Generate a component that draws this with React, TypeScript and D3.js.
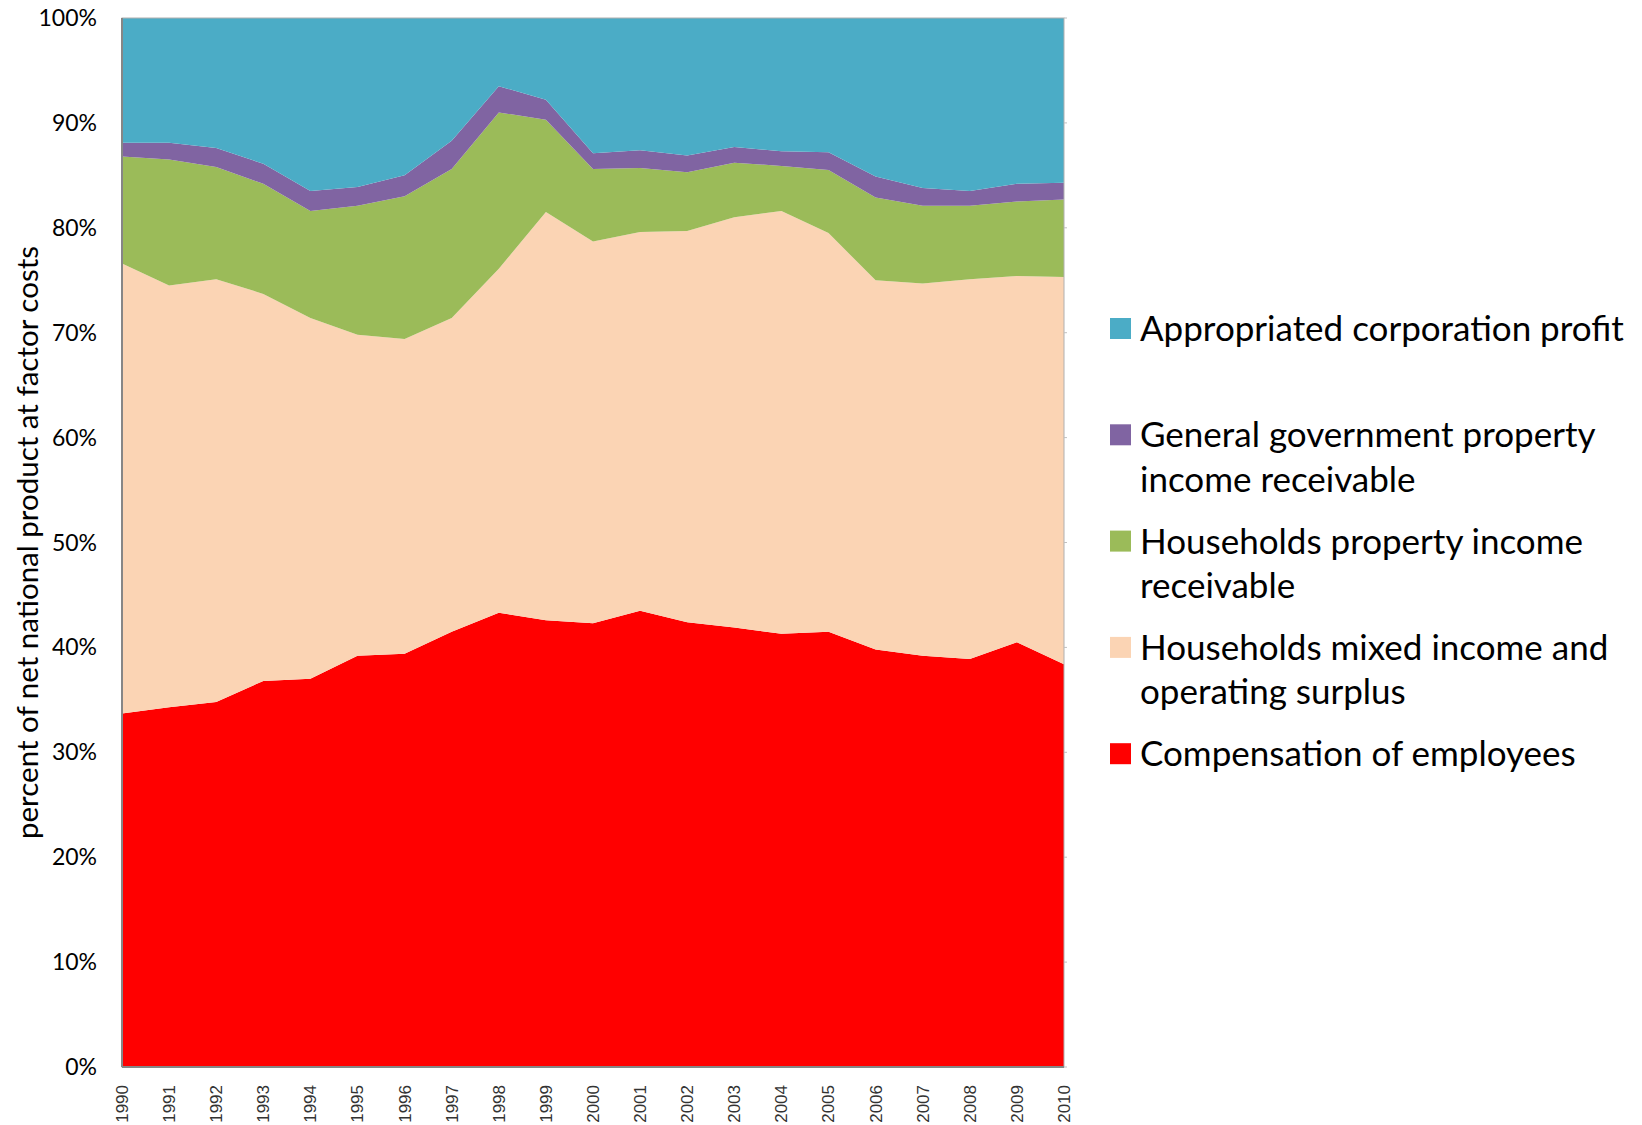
import React from 'react'
import * as d3 from 'd3'

const years = [1990, 1991, 1992, 1993, 1994, 1995, 1996, 1997, 1998, 1999, 2000, 2001, 2002, 2003, 2004, 2005, 2006, 2007, 2008, 2009, 2010]

// shares in percent
const compensation = [33.7, 34.3, 34.8, 36.8, 37.0, 39.2, 39.4, 41.5, 43.3, 42.6, 42.3, 43.5, 42.4, 41.9, 41.3, 41.5, 39.8, 39.2, 38.9, 40.5, 38.4]
const mixedIncome = [42.9, 40.2, 40.3, 36.9, 34.4, 30.6, 30.0, 29.9, 32.8, 38.9, 36.4, 36.1, 37.3, 39.1, 40.3, 38.0, 35.2, 35.5, 36.2, 34.9, 36.9]
const householdsProperty = [10.2, 12.0, 10.7, 10.5, 10.2, 12.3, 13.6, 14.2, 14.9, 8.8, 6.9, 6.1, 5.6, 5.2, 4.3, 6.0, 7.9, 7.4, 7.0, 7.1, 7.4]
const governmentProperty = [1.3, 1.6, 1.8, 1.9, 1.9, 1.8, 2.0, 2.7, 2.5, 1.9, 1.5, 1.7, 1.6, 1.5, 1.4, 1.7, 2.0, 1.7, 1.4, 1.7, 1.6]
const corporationProfit = [11.9, 11.9, 12.4, 13.9, 16.5, 16.1, 15.0, 11.7, 6.5, 7.8, 12.9, 12.6, 13.1, 12.3, 12.7, 12.8, 15.1, 16.2, 16.5, 15.8, 15.7]

const yTicks = [0, 0.1, 0.2, 0.3, 0.4, 0.5, 0.6, 0.7, 0.8, 0.9, 1]

const seriesKeys = ['comp', 'mixed', 'hhprop', 'govprop', 'corp']
const seriesColors = ['#FF0000', '#FBD4B4', '#9BBB59', '#8064A2', '#4BACC6']
const legendLabels = [
  ['Compensation of employees'],
  ['Households mixed income and', 'operating surplus'],
  ['Households property income', 'receivable'],
  ['General government property', 'income receivable'],
  ['Appropriated corporation profit'],
]

const W = 1642
const H = 1125
const margin = { top: 18, right: 578, bottom: 58, left: 122 }

export default function App() {
  const innerRight = W - margin.right
  const innerBottom = H - margin.bottom

  const rows = years.map((y, i) => ({
    year: y,
    comp: compensation[i],
    mixed: mixedIncome[i],
    hhprop: householdsProperty[i],
    govprop: governmentProperty[i],
    corp: corporationProfit[i],
  }))

  const stack = d3.stack<any>().keys(seriesKeys).offset(d3.stackOffsetExpand)
  const layers = stack(rows)

  const x = d3.scalePoint<number>().domain(years).range([margin.left, innerRight])
  const y = d3.scaleLinear().domain([0, 1]).range([innerBottom, margin.top])

  const area = d3.area<any>()
    .x(d => x(d.data.year) as number)
    .y0(d => y(d[0]))
    .y1(d => y(d[1]))

  const fmt = d3.format('.0%')
  const legendX = 1110
  const legendTop = 318
  const rowStep = 106.3

  return (
    <svg width={W} height={H} style={{ position: 'absolute', left: 0, top: 0, background: '#fff' }}>
      {layers.map((layer, i) => (
        <path key={layer.key} d={area(layer) || ''} fill={seriesColors[i]} />
      ))}

      {/* plot frame */}
      <rect x={margin.left} y={margin.top} width={innerRight - margin.left} height={innerBottom - margin.top}
        fill="none" stroke="#b0b0b0" strokeWidth={1} />
      <line x1={margin.left} x2={margin.left} y1={margin.top} y2={innerBottom} stroke="#868686" strokeWidth={2} />
      <line x1={margin.left} x2={innerRight} y1={innerBottom} y2={innerBottom} stroke="#868686" strokeWidth={2} />
      {yTicks.map(t => (
        <line key={'rt' + t} x1={innerRight} x2={innerRight + 3} y1={y(t)} y2={y(t)} stroke="#c0c0c0" strokeWidth={1} />
      ))}

      {/* y axis */}
      {yTicks.map(t => (
        <text key={t} x={97} y={y(t)} dy="0.35em" textAnchor="end"
          style={{ fontFamily: 'Lato, sans-serif', fontSize: 23 }} fill="#000">
          {fmt(t)}
        </text>
      ))}
      <text transform={`translate(28,${(margin.top + innerBottom) / 2}) rotate(-90)`} textAnchor="middle" dy="0.35em"
        style={{ fontFamily: 'Lato, sans-serif', fontSize: 29.5 }} fill="#000">
        percent of net national product at factor costs
      </text>

      {/* x axis */}
      {years.map(yr => (
        <text key={yr} transform={`translate(${x(yr)},${innerBottom + 18}) rotate(-90)`} textAnchor="end" dy="0.35em"
          style={{ fontFamily: '"Liberation Sans", Arial, sans-serif', fontSize: 17 }} fill="#333">
          {yr}
        </text>
      ))}

      {/* legend, top to bottom */}
      {seriesKeys.map((k, i) => {
        const idx = seriesKeys.length - 1 - i
        const top = legendTop + i * rowStep
        return (
          <g key={k}>
            <rect x={legendX} y={top} width={21} height={21} fill={seriesColors[idx]} />
            {legendLabels[idx].map((line, j) => (
              <text key={j} x={legendX + 30} y={top + 23 + j * 44.5}
                style={{ fontFamily: 'Lato, sans-serif', fontSize: 35 }} fill="#000">
                {line}
              </text>
            ))}
          </g>
        )
      })}
    </svg>
  )
}
